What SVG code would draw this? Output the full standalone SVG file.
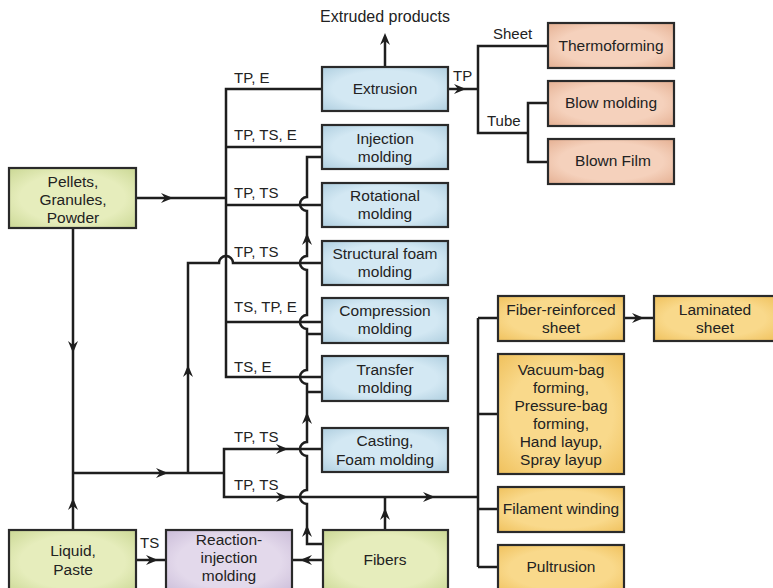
<svg xmlns="http://www.w3.org/2000/svg" xmlns:xlink="http://www.w3.org/1999/xlink" width="773" height="588" viewBox="0 0 773 588">
<style>
.bx{stroke:#2a2a2a;stroke-width:2.2}
.t{font-family:"Liberation Sans",Arial,sans-serif;font-size:15.5px;fill:#222;text-anchor:middle}
.l{font-family:"Liberation Sans",Arial,sans-serif;font-size:15px;fill:#222}
.c{fill:none;stroke:#1e1e1e;stroke-width:2.5;stroke-linejoin:miter}
.blue{fill:url(#gBlue)}.green{fill:url(#gGreen)}.sal{fill:url(#gSal)}.yel{fill:url(#gYel)}.pur{fill:url(#gPur)}
</style>
<defs>
<radialGradient id="gBlue" cx="0.5" cy="0.5" r="0.75"><stop offset="0.55" stop-color="#d3e8f3"/><stop offset="1" stop-color="#a9cadc"/></radialGradient>
<radialGradient id="gGreen" cx="0.5" cy="0.5" r="0.75"><stop offset="0.55" stop-color="#e6edbc"/><stop offset="1" stop-color="#c6d48e"/></radialGradient>
<radialGradient id="gSal" cx="0.5" cy="0.5" r="0.75"><stop offset="0.55" stop-color="#f5d1bc"/><stop offset="1" stop-color="#e2aa8b"/></radialGradient>
<radialGradient id="gYel" cx="0.5" cy="0.5" r="0.75"><stop offset="0.55" stop-color="#f9d98b"/><stop offset="1" stop-color="#eebd55"/></radialGradient>
<radialGradient id="gPur" cx="0.5" cy="0.5" r="0.75"><stop offset="0.55" stop-color="#e3d9eb"/><stop offset="1" stop-color="#c6b7d5"/></radialGradient>
<path id="ah" d="M0,0 L-12,-5 L-8,0 L-12,5 Z" fill="#1e1e1e"/>
</defs>

<g id="connectors">
<path class="c" d="M385,67 V38"/>
<path class="c" d="M448,89 H478"/>
<path class="c" d="M548,46 H478 V133 H528"/>
<path class="c" d="M548,103 H528 V162 H548"/>
<path class="c" d="M322,89 H226 V377 H322 M226,147 H322 M226,205 H322 M226,322 H322"/>
<path class="c" d="M136,198 H226"/>
<path class="c" d="M188,473 V263 H219 A7,7 0 0 1 233,263 H322"/>
<path class="c" d="M73,228 V530 M73,473 H224"/>
<path class="c" d="M322,449 H224 V497 H478"/>
<path class="c" d="M322,544 H307 V504 A7,7 0 0 1 307,490 V456 A7,7 0 0 1 307,442 V384 A7,7 0 0 1 307,370 V329 A7,7 0 0 1 307,315 V270 A7,7 0 0 1 307,256 V211 A7,7 0 0 1 307,197 V157 H322"/>
<path class="c" d="M307,334 H322 M307,392 H322"/>
<path class="c" d="M385,530 V497"/>
<path class="c" d="M478,318 V567 M478,318 H498 M478,414 H498 M478,509 H498 M478,567 H498"/>
<path class="c" d="M624,318 H654"/>
<path class="c" d="M136,560 H166"/>
<path class="c" d="M323,560 H292"/>
<use xlink:href="#ah" transform="translate(385,33) rotate(-90)"/>
<use xlink:href="#ah" transform="translate(466,89)"/>
<use xlink:href="#ah" transform="translate(173,198)"/>
<use xlink:href="#ah" transform="translate(73,353) rotate(90)"/>
<use xlink:href="#ah" transform="translate(73,498) rotate(-90)"/>
<use xlink:href="#ah" transform="translate(168,473)"/>
<use xlink:href="#ah" transform="translate(188,365) rotate(-90)"/>
<use xlink:href="#ah" transform="translate(288,449)"/>
<use xlink:href="#ah" transform="translate(288,497)"/>
<use xlink:href="#ah" transform="translate(435,497)"/>
<use xlink:href="#ah" transform="translate(385,508) rotate(-90)"/>
<use xlink:href="#ah" transform="translate(307,233) rotate(-90)"/>
<use xlink:href="#ah" transform="translate(307,412) rotate(-90)"/>
<use xlink:href="#ah" transform="translate(307,525) rotate(-90)"/>
<use xlink:href="#ah" transform="translate(158,560)"/>
<use xlink:href="#ah" transform="translate(300,560) rotate(180)"/>
<use xlink:href="#ah" transform="translate(644,318)"/>
</g>

<g id="labels">
<text class="t" x="385" y="22" style="font-size:16px">Extruded products</text>
<text class="l" x="234" y="83">TP, E</text>
<text class="l" x="234" y="140">TP, TS, E</text>
<text class="l" x="234" y="198">TP, TS</text>
<text class="l" x="234" y="257">TP, TS</text>
<text class="l" x="234" y="312">TS, TP, E</text>
<text class="l" x="234" y="372">TS, E</text>
<text class="l" x="234" y="442">TP, TS</text>
<text class="l" x="234" y="490">TP, TS</text>
<text class="l" x="140" y="548">TS</text>
<text class="l" x="453" y="81">TP</text>
<text class="l" x="493" y="39">Sheet</text>
<text class="l" x="487" y="126">Tube</text>
</g>

<g id="pellets"><rect class="bx green" x="9" y="168" width="127" height="60"/><text class="t" x="73" y="187">Pellets,</text><text class="t" x="73" y="205">Granules,</text><text class="t" x="73" y="223">Powder</text></g>
<g id="liquid"><rect class="bx green" x="9" y="530" width="127" height="64"/><text class="t" x="73" y="556">Liquid,</text><text class="t" x="73" y="575">Paste</text></g>
<g id="rim"><rect class="bx pur" x="166" y="530" width="126" height="64"/><text class="t" x="229" y="545">Reaction-</text><text class="t" x="229" y="563">injection</text><text class="t" x="229" y="581">molding</text></g>
<g id="fibers"><rect class="bx green" x="323" y="530" width="125" height="64"/><text class="t" x="385" y="565">Fibers</text></g>
<g id="extrusion"><rect class="bx blue" x="322" y="67" width="126" height="44"/><text class="t" x="385" y="94">Extrusion</text></g>
<g id="injection"><rect class="bx blue" x="322" y="125" width="126" height="44"/><text class="t" x="385" y="144">Injection</text><text class="t" x="385" y="162">molding</text></g>
<g id="rotational"><rect class="bx blue" x="322" y="183" width="126" height="44"/><text class="t" x="385" y="201">Rotational</text><text class="t" x="385" y="219">molding</text></g>
<g id="structural"><rect class="bx blue" x="322" y="241" width="126" height="44"/><text class="t" x="385" y="259">Structural foam</text><text class="t" x="385" y="277">molding</text></g>
<g id="compression"><rect class="bx blue" x="322" y="298" width="126" height="45"/><text class="t" x="385" y="316">Compression</text><text class="t" x="385" y="334">molding</text></g>
<g id="transfer"><rect class="bx blue" x="322" y="356" width="126" height="45"/><text class="t" x="385" y="375">Transfer</text><text class="t" x="385" y="393">molding</text></g>
<g id="casting"><rect class="bx blue" x="322" y="428" width="126" height="44"/><text class="t" x="385" y="446">Casting,</text><text class="t" x="385" y="465">Foam molding</text></g>
<g id="thermoforming"><rect class="bx sal" x="548" y="23" width="126" height="45"/><text class="t" x="611" y="51">Thermoforming</text></g>
<g id="blowmolding"><rect class="bx sal" x="548" y="81" width="126" height="45"/><text class="t" x="611" y="108">Blow molding</text></g>
<g id="blownfilm"><rect class="bx sal" x="548" y="139" width="126" height="45"/><text class="t" x="613" y="166">Blown Film</text></g>
<g id="fiberreinforced"><rect class="bx yel" x="498" y="296" width="126" height="45"/><text class="t" x="561" y="315">Fiber-reinforced</text><text class="t" x="561" y="333">sheet</text></g>
<g id="laminated"><rect class="bx yel" x="654" y="296" width="122" height="45"/><text class="t" x="715" y="315">Laminated</text><text class="t" x="715" y="333">sheet</text></g>
<g id="vacuum"><rect class="bx yel" x="498" y="354" width="126" height="120"/><text class="t" x="561" y="375">Vacuum-bag</text><text class="t" x="561" y="393">forming,</text><text class="t" x="561" y="411">Pressure-bag</text><text class="t" x="561" y="429">forming,</text><text class="t" x="561" y="447">Hand layup,</text><text class="t" x="561" y="465">Spray layup</text></g>
<g id="filament"><rect class="bx yel" x="498" y="487" width="126" height="45"/><text class="t" x="561" y="514">Filament winding</text></g>
<g id="pultrusion"><rect class="bx yel" x="498" y="545" width="126" height="49"/><text class="t" x="561" y="572">Pultrusion</text></g>
</svg>
